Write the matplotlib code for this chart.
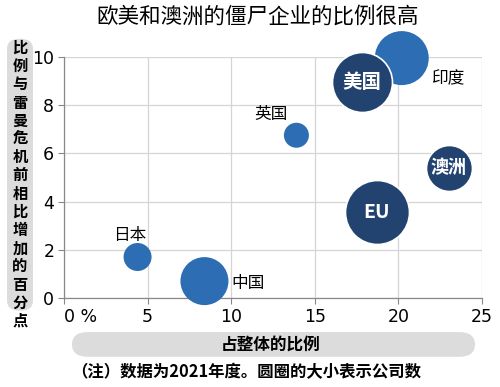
import matplotlib.pyplot as plt
from matplotlib.patches import FancyBboxPatch

plt.rcParams['font.family'] = ['Noto Sans CJK SC', 'DejaVu Sans']

# 数据
countries = ['日本', '中国', '英国', '美国', '印度', '澳洲', 'EU']
share = [4.4, 8.4, 13.9, 17.8, 20.2, 23.0, 18.7]
increase = [1.7, 0.7, 6.75, 8.95, 9.95, 5.4, 3.55]
bubble = [14, 24, 12.5, 30, 27, 23, 32]  # 圆圈半径（相对公司数）
dark = [False, False, False, True, False, True, True]

x_ticks = [0, 5, 10, 15, 20, 25]
x_ticklabels = ['0 %', '5', '10', '15', '20', '25']
y_ticks = [0, 2, 4, 6, 8, 10]

light_c = '#2d6db3'
dark_c = '#22436f'

fig = plt.figure(figsize=(5, 3.87), dpi=100)
ax = fig.add_axes([0.128, 0.23, 0.836, 0.623])

order = [4, 3, 2, 0, 1, 5, 6]
inner_size = {'美国': 14, '澳洲': 13, 'EU': 14}
for i in order:
    s = (2 * bubble[i] * 0.72) ** 2
    if dark[i]:
        ax.scatter(share[i], increase[i], s=s, color=dark_c, edgecolor='white',
                   linewidth=1.2, zorder=3, clip_on=False)
        ax.text(share[i], increase[i], countries[i], color='white',
                fontsize=inner_size[countries[i]], fontweight='bold',
                ha='center', va='center', zorder=4)
    else:
        ax.scatter(share[i], increase[i], s=s, color=light_c, edgecolor='none',
                   zorder=3, clip_on=False)

# 外部标签
ax.text(3.9, 2.6, '日本', fontsize=12, ha='center', va='center')
ax.text(10.0, 0.6, '中国', fontsize=12, ha='left', va='center')
ax.text(12.4, 7.6, '英国', fontsize=12, ha='center', va='center')
ax.text(23.0, 9.1, '印度', fontsize=12, ha='center', va='center')

ax.set_xlim(0, 25)
ax.set_ylim(0, 10)
ax.set_xticks(x_ticks)
ax.set_xticklabels(x_ticklabels, fontfamily='Liberation Sans Narrow', fontsize=12.5)
ax.set_yticks(y_ticks)
ax.set_yticklabels([str(v) for v in y_ticks], fontfamily='Liberation Sans Narrow', fontsize=12.5)
ax.grid(True, color='#d5d5d5', linewidth=0.9, zorder=0)
ax.set_axisbelow(True)
for sp in ['top', 'right']:
    ax.spines[sp].set_visible(False)
for sp in ['left', 'bottom']:
    ax.spines[sp].set_color('#888888')
    ax.spines[sp].set_linewidth(0.9)
ax.tick_params(length=4, color='#888888', pad=3)
ax.xaxis.get_ticklabels()[0].set_horizontalalignment('left')

# 标题
fig.text(0.515, 0.958, '欧美和澳洲的僵尸企业的比例很高', fontsize=15.5, ha='center', va='center')

# y 轴标签（灰色圆角框，竖排）
fig.patches.append(FancyBboxPatch((0.014, 0.197), 0.052, 0.703,
                                  boxstyle='round,pad=0,rounding_size=0.026',
                                  transform=fig.transFigure, facecolor='#dcdcdc',
                                  edgecolor='none'))
ylab = '比例与雷曼危机前相比增加的百分点'
top_px, step_px = 48, 18.2
for k, ch in enumerate(ylab):
    fig.text(0.04, 1 - (top_px + k * step_px) / 387, ch, fontsize=11, fontweight='bold',
             ha='center', va='center')

# x 轴标签
fig.patches.append(FancyBboxPatch((0.144, 0.078), 0.806, 0.064,
                                  boxstyle='round,pad=0,rounding_size=0.032',
                                  transform=fig.transFigure, facecolor='#dcdcdc',
                                  edgecolor='none'))
fig.text(0.541, 0.11, '占整体的比例', fontsize=12, fontweight='bold', ha='center', va='center')

# 注
fig.text(0.142, 0.038, '（注）数据为2021年度。圆圈的大小表示公司数', fontsize=11.8,
         fontweight='bold', ha='left', va='center')

fig.savefig('out.png', dpi=100)
